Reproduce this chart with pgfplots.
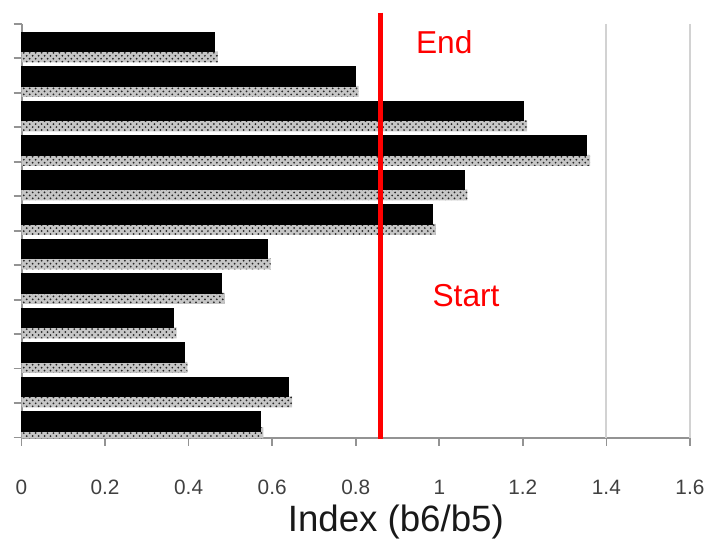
\documentclass[border=0pt]{standalone}
\usepackage{fontspec}
\setmainfont{Liberation Sans}
\usepackage{pgfplots}
\pgfplotsset{compat=1.18}
\usetikzlibrary{patterns}
\begin{document}
\begin{tikzpicture}
\begin{axis}[
  at={(0,0)}, anchor=south west,
  scale only axis, width=337.5pt, height=209pt,
  xmin=0, xmax=1.6, ymin=0.5, ymax=12.5, y dir=reverse,
  clip=false,
  axis x line=bottom, axis y line=left,
  axis line style={-, draw=gray!85, line width=1pt},
  xtick={0,0.2,0.4,0.6,0.8,1,1.2,1.4,1.6},
  ytick={0.5,1.5,2.5,3.5,4.5,5.5,6.5,7.5,8.5,9.5,10.5,11.5,12.5}, yticklabels={},
  tick align=outside,
  major tick length=4pt,
  tick style={draw=gray!85, line width=0.8pt},
  xticklabel style={font=\fontsize{10.5}{12}\selectfont, text=black!75, yshift=-14pt},
  /pgf/number format/assume math mode=true,
  extra x ticks={1.4,1.6}, extra x tick labels={,},
  extra x tick style={grid=major, major grid style={draw=gray!35, line width=1pt}},
  xlabel={Index (b6/b5)},
  xlabel style={font=\fontsize{18.5}{22}\selectfont, text=black!90, at={(axis description cs:0.56,0)}, anchor=base, yshift=-47.5pt},
]
% dotted shadow under each bar (grey base + dot texture)
\addplot[xbar, bar width=0.32, bar shift=0pt, draw=none, mark=none, fill=gray!45] coordinates {
(0.470,1.46) (0.807,2.46) (1.210,3.46) (1.361,4.46) (1.067,5.46) (0.992,6.46)
(0.596,7.46) (0.487,8.46) (0.371,9.46) (0.397,10.46) (0.648,11.46) (0.579,12.36)};
\addplot[xbar, bar width=0.32, bar shift=0pt, draw=none, mark=none,
  pattern=crosshatch dots, pattern color=black!85] coordinates {
(0.470,1.46) (0.807,2.46) (1.210,3.46) (1.361,4.46) (1.067,5.46) (0.992,6.46)
(0.596,7.46) (0.487,8.46) (0.371,9.46) (0.397,10.46) (0.648,11.46) (0.579,12.36)};
% black bars
\addplot[xbar, bar width=0.56, bar shift=0pt, draw=black, fill=black, mark=none] coordinates {
(0.462,1.03) (0.799,2.03) (1.202,3.03) (1.353,4.03) (1.059,5.03) (0.984,6.03)
(0.588,7.03) (0.479,8.03) (0.363,9.03) (0.389,10.03) (0.640,11.03) (0.571,12.03)};
% red reference line
\addplot[red, line width=2.5pt, mark=none] coordinates {(0.86,0.18) (0.86,12.53)};
\node[text=red, font=\fontsize{16}{19}\selectfont] at (axis cs:1.012,1.02) {End};
\node[text=red, font=\fontsize{16}{19}\selectfont] at (axis cs:1.064,8.37) {Start};
\end{axis}
\path (-10pt,-51pt) rectangle (345.5pt,221pt);
\end{tikzpicture}
\end{document}
